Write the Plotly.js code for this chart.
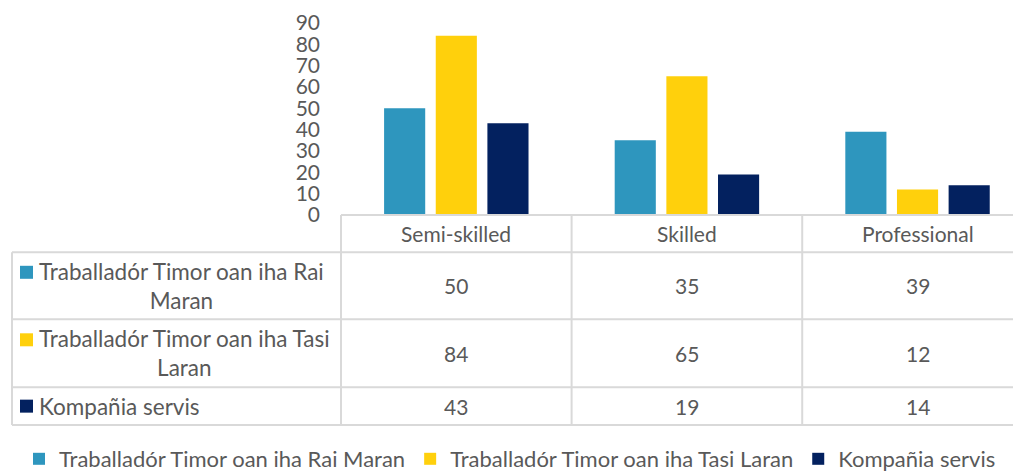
<!DOCTYPE html>
<html>
<head>
<meta charset="utf-8">
<script src="https://cdn.plot.ly/plotly-3.0.1.min.js"></script>
<style>
  html, body { margin: 0; padding: 0; background: #ffffff; }
  #chart { width: 1013px; height: 471px; }
</style>
</head>
<body>
<div id="chart"></div>
<script>
// Job categories along the x axis
const categories = ['Semi-skilled', 'Skilled', 'Professional'];

// Series names (shown in the data table and the legend)
const seriesNames = [
  'Traballadór Timor oan iha Rai Maran',
  'Traballadór Timor oan iha Tasi Laran',
  'Kompañia servis'
];

// Row labels in the data table (wrapped like the table cells)
const rowLabels = [
  'Traballadór Timor oan iha Rai<br>Maran',
  'Traballadór Timor oan iha Tasi<br>Laran',
  'Kompañia servis'
];

// Values per series
const raiMaran = [50, 35, 39];
const tasiLaran = [84, 65, 12];
const kompania = [43, 19, 14];

const seriesValues = [raiMaran, tasiLaran, kompania];
const seriesColors = ['#2E96BE', '#FFD00C', '#03215F'];

// Y axis ticks
const yTicks = [0, 10, 20, 30, 40, 50, 60, 70, 80, 90];

const FONT = 'Lato, "Liberation Sans", sans-serif';
const TEXT_COLOR = '#595959';
const GRID_COLOR = '#D9D9D9';
const FONT_SIZE = 21;
const LABEL_SIZE = 22.5;
const LEGEND_SIZE = 22;

// Plot-area geometry (pixels)
const W = 1013, H = 471;
const M = { l: 341, r: 0, t: 23, b: 256 };
const plotW = W - M.l - M.r;
const plotH = H - M.t - M.b;
const pxToPaperX = px => (px - M.l) / plotW;
const pxToPaperY = py => (H - M.b - py) / plotH;

const xRange = [-0.5, 2.414];
const xSpan = xRange[1] - xRange[0];
const toPaperX = v => (v - xRange[0]) / xSpan;

// Table row boundaries (pixels from the top)
const rowEdgesPx = [252.3, 319.3, 387.3, 425];
const rowBounds = rowEdgesPx.map(pxToPaperY);
const headerBottom = rowBounds[0];
const tableLeft = pxToPaperX(12);

const traces = seriesNames.map((name, i) => ({
  type: 'bar',
  name: name,
  x: categories.map((c, k) => k),
  y: seriesValues[i],
  marker: { color: seriesColors[i], line: { width: 0 } },
  hoverinfo: 'skip'
}));

const shapes = [];
const lineStyle = { color: GRID_COLOR, width: 2 };
// top border of the category header
shapes.push({ type: 'line', xref: 'paper', yref: 'paper', x0: 0, x1: 1, y0: 0, y1: 0, line: lineStyle });
// horizontal borders of the data rows
rowBounds.forEach(y => shapes.push({
  type: 'line', xref: 'paper', yref: 'paper', x0: tableLeft, x1: 1, y0: y, y1: y, line: lineStyle
}));
// left border of the row labels
shapes.push({ type: 'line', xref: 'paper', yref: 'paper', x0: tableLeft, x1: tableLeft,
  y0: headerBottom, y1: rowBounds[rowBounds.length - 1], line: lineStyle });
// column borders between categories
categories.forEach((c, k) => {
  const xp = toPaperX(k - 0.5);
  shapes.push({ type: 'line', xref: 'paper', yref: 'paper', x0: xp, x1: xp,
    y0: 0, y1: rowBounds[rowBounds.length - 1], line: lineStyle });
});

const annotations = [];
const txtFont = { family: FONT, size: FONT_SIZE, color: TEXT_COLOR };
const lblFont = { family: FONT, size: LABEL_SIZE, color: TEXT_COLOR };
const lineStep = 27; // pixel spacing of wrapped label lines

// category header cells
categories.forEach((c, k) => annotations.push({
  xref: 'x', yref: 'paper', x: k, y: headerBottom / 2, text: c,
  showarrow: false, xanchor: 'center', yanchor: 'middle', font: txtFont
}));

// data rows: colour key, label and values
seriesValues.forEach((vals, i) => {
  const topPx = rowEdgesPx[i];
  const botPx = rowEdgesPx[i + 1];
  const midPx = (topPx + botPx) / 2;
  const wrapped = rowLabels[i].indexOf('<br>') >= 0;
  const firstLinePx = wrapped ? midPx - lineStep / 2 : midPx;
  shapes.push({
    type: 'rect', xref: 'paper', yref: 'paper',
    x0: pxToPaperX(20), x1: pxToPaperX(33),
    y0: pxToPaperY(firstLinePx - 6.5), y1: pxToPaperY(firstLinePx + 6.5),
    fillcolor: seriesColors[i], line: { width: 0 }
  });
  annotations.push({
    xref: 'paper', yref: 'paper', x: pxToPaperX(37), y: pxToPaperY(midPx),
    text: rowLabels[i], showarrow: false, xanchor: 'left', yanchor: 'middle',
    align: 'center', font: lblFont
  });
  vals.forEach((v, k) => annotations.push({
    xref: 'x', yref: 'paper', x: k, y: pxToPaperY(midPx), text: String(v),
    showarrow: false, xanchor: 'center', yanchor: 'middle', font: txtFont
  }));
});

const layout = {
  width: W,
  height: H,
  margin: { l: M.l, r: M.r, t: M.t, b: M.b, pad: 0, autoexpand: false },
  paper_bgcolor: '#ffffff',
  plot_bgcolor: '#ffffff',
  font: { family: FONT, size: FONT_SIZE, color: TEXT_COLOR },
  barmode: 'group',
  bargap: 0.328,
  bargroupgap: 0.204,
  xaxis: {
    range: xRange, showticklabels: false, showgrid: false, zeroline: false,
    showline: false, ticks: '', fixedrange: true, automargin: false
  },
  yaxis: {
    range: [0, 90], tickvals: yTicks, ticktext: yTicks.map(String),
    showgrid: false, zeroline: false, showline: false, ticks: '',
    ticklabelstandoff: 20, tickfont: { family: FONT, size: FONT_SIZE, color: TEXT_COLOR },
    fixedrange: true, automargin: false
  },
  showlegend: true,
  legend: {
    orientation: 'h', xref: 'paper', yref: 'paper',
    x: pxToPaperX(19), xanchor: 'left', y: pxToPaperY(459), yanchor: 'middle',
    font: { family: FONT, size: LEGEND_SIZE, color: TEXT_COLOR },
    itemwidth: 30, traceorder: 'normal', bgcolor: 'rgba(0,0,0,0)'
  },
  shapes: shapes,
  annotations: annotations
};

Plotly.newPlot('chart', traces, layout, { displayModeBar: false, staticPlot: true });
</script>
</body>
</html>
